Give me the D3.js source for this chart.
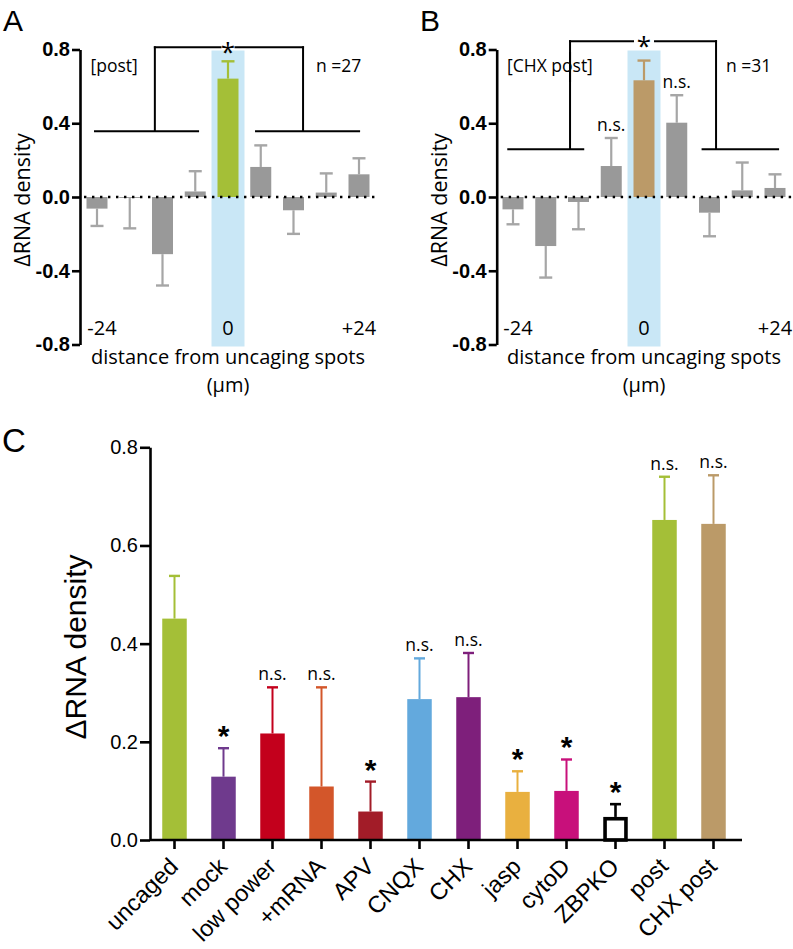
<!DOCTYPE html>
<html><head><meta charset="utf-8">
<script src="https://cdn.jsdelivr.net/npm/d3@7"></script>
<style>
html,body{margin:0;padding:0;background:#fff;}
svg{display:block;}
.my{font-family:"Open Sans",sans-serif;}
.hv{font-family:"Liberation Sans",Arial,sans-serif;}
</style></head>
<body>
<svg id="chart" width="793" height="949"></svg>
<script>
// ---------- DATA ----------
const distances = [-24, -18, -12, -6, 0, 6, 12, 18, 24];
const distanceTickLabels = ["-24", "0", "+24"];
const distanceTickValues = [-24, 0, 24];
const yTicksAB = [-0.8, -0.4, 0.0, 0.4, 0.8];

const postMean = [-0.063, -0.005, -0.31, 0.03, 0.642, 0.163, -0.072, 0.024, 0.123];
const postSem  = [0.094, 0.165, 0.17, 0.11, 0.094, 0.117, 0.128, 0.104, 0.087];

const chxPostMean = [-0.067, -0.266, -0.027, 0.168, 0.633, 0.403, -0.085, 0.036, 0.049];
const chxPostSem  = [0.081, 0.171, 0.148, 0.152, 0.107, 0.149, 0.128, 0.151, 0.074];
const chxPostSig  = ["", "", "", "n.s.", "", "n.s.", "", "", ""];

const conditions = ["uncaged", "mock", "low power", "+mRNA", "APV", "CNQX", "CHX", "jasp", "cytoD", "ZBPKO", "post", "CHX post"];
const condMean = [0.451, 0.129, 0.217, 0.109, 0.058, 0.287, 0.291, 0.098, 0.100, 0.047, 0.652, 0.644];
const condSem  = [0.087, 0.058, 0.094, 0.202, 0.061, 0.083, 0.090, 0.042, 0.064, 0.026, 0.088, 0.099];
const condSig  = ["", "*", "n.s.", "n.s.", "*", "n.s.", "n.s.", "*", "*", "*", "n.s.", "n.s."];
const condColor = ["#a4bf37", "#6f3a8d", "#c3001c", "#d3562a", "#a21c28", "#63a9dd", "#7e1f7b", "#e9b03f", "#c8107b", "#ffffff", "#a4bf37", "#bb9a68"];
const yTicksC = [0, 0.2, 0.4, 0.6, 0.8];

// ---------- SETUP ----------
const svg = d3.select("#chart");
const ink = "#000";

function panelAB(opts) {
  const g = svg.append("g");
  const x = d3.scaleLinear().domain([-24, 24]).range(opts.xRange);
  const y = d3.scaleLinear().domain([-0.8, 0.8]).range([344.5, 49.5]);
  const bw = 21;
  const ax = opts.axisX;

  // highlight band at 0
  g.append("rect").attr("x", x(0) - 16.5).attr("width", 33)
    .attr("y", y(0.8) + 1).attr("height", y(-0.8) - y(0.8) + 1)
    .attr("fill", "#c9e7f6");

  const data = distances.map((d, i) => ({d, m: opts.mean[i], s: opts.sem[i], i}));
  // error bars
  data.forEach(o => {
    const end = o.m >= 0 ? o.m + o.s : o.m - o.s;
    const col = o.d === 0 ? opts.hiColor : "#a6a6a6";
    g.append("line").attr("x1", x(o.d)).attr("x2", x(o.d)).attr("y1", y(o.m)).attr("y2", y(end))
      .attr("stroke", col).attr("stroke-width", 2.2);
    g.append("line").attr("x1", x(o.d) - 6.5).attr("x2", x(o.d) + 6.5).attr("y1", y(end)).attr("y2", y(end))
      .attr("stroke", col).attr("stroke-width", 2.4);
  });
  // bars
  g.selectAll("rect.bar").data(data).join("rect").attr("class", "bar")
    .attr("x", o => x(o.d) - bw / 2).attr("width", bw)
    .attr("y", o => y(Math.max(0, o.m))).attr("height", o => Math.abs(y(o.m) - y(0)))
    .attr("fill", o => o.d === 0 ? opts.hiColor : "#999999");

  // dotted zero line
  g.append("line").attr("x1", ax + 4).attr("x2", opts.zeroEnd).attr("y1", y(0)).attr("y2", y(0))
    .attr("stroke", ink).attr("stroke-width", 2.6).attr("stroke-dasharray", "2.4,5.6");

  // y axis
  const axis = d3.axisLeft(y).tickValues(yTicksAB).tickFormat(d3.format(".1f")).tickSize(8).tickSizeOuter(0).tickPadding(2);
  const ag = g.append("g").attr("transform", `translate(${ax},0)`).call(axis);
  ag.select(".domain").attr("stroke-width", 2.6).attr("stroke", ink);
  ag.selectAll(".tick line").attr("stroke-width", 2.6).attr("stroke", ink);
  ag.selectAll(".tick text").attr("class", "hv").attr("font-size", 20).attr("font-weight", "bold").attr("fill", ink)
    .text(d => d === 0 ? "0.0" : d3.format(".1f")(d).replace("−", "-"));

  // y label
  g.append("text").attr("class", "my").attr("font-size", 21.5)
    .attr("transform", `translate(${ax - 50},${y(0) + 3}) rotate(-90)`).attr("text-anchor", "middle")
    .text("ΔRNA density");

  // distance labels
  distanceTickValues.forEach((v, i) => {
    g.append("text").attr("class", "my").attr("font-size", 20).attr("text-anchor", "middle")
      .attr("x", x(v) + (v < 0 ? 5 : 0)).attr("y", 335).text(distanceTickLabels[i]);
  });
  g.append("text").attr("class", "my").attr("font-size", 20).attr("text-anchor", "middle")
    .attr("x", x(0)).attr("y", 364).text("distance from uncaging spots");
  g.append("text").attr("class", "my").attr("font-size", 20).attr("text-anchor", "middle")
    .attr("x", x(0)).attr("y", 392).text("(μm)");

  // condition label and n
  g.append("text").attr("class", "my").attr("font-size", 17.5).attr("x", opts.condX).attr("y", 72).text(opts.cond);
  g.append("text").attr("class", "my").attr("font-size", 17.5).attr("x", opts.nX).attr("y", 72).text(opts.n);

  // brackets
  const b = opts.bracket;
  const L = (x1, y1, x2, y2) => g.append("line").attr("x1", x1).attr("y1", y1).attr("x2", x2).attr("y2", y2)
    .attr("stroke", ink).attr("stroke-width", 2);
  L(x(b.left[0]), y(b.level), x(b.left[1]), y(b.level));
  L(x(b.right[0]), y(b.level), x(b.right[1]), y(b.level));
  if (b.stemGap) {
    L(x(b.leftStem), y(b.level), x(b.leftStem), b.stemGap[1]);
    L(x(b.leftStem), b.stemGap[0], x(b.leftStem), y(b.top) - 1);
  } else {
    L(x(b.leftStem), y(b.level), x(b.leftStem), y(b.top) - 1);
  }
  L(x(b.rightStem), y(b.level), x(b.rightStem), y(b.top) - 1);
  L(x(b.leftStem) - 1, y(b.top), x(0) - b.gap, y(b.top));
  L(x(0) + b.gap, y(b.top), x(b.rightStem) + 1, y(b.top));
  g.append("text").attr("class", "my").attr("font-size", 26).attr("text-anchor", "middle")
    .attr("x", x(0)).attr("y", y(b.top) + 14).text("*");

  // n.s. labels
  if (opts.sig) {
    data.forEach(o => {
      if (!opts.sig[o.i]) return;
      const end = o.m + o.s;
      g.append("text").attr("class", "my").attr("font-size", 17.5).attr("text-anchor", "middle")
        .attr("x", x(o.d)).attr("y", y(end) - 7).text(opts.sig[o.i]);
    });
  }

  // panel letter
  g.append("text").attr("class", "hv").attr("font-size", 30).attr("x", opts.letterX).attr("y", 31).text(opts.letter);
}

panelAB({
  xRange: [97, 359], axisX: 80, zeroEnd: 376, mean: postMean, sem: postSem, hiColor: "#a4bf37",
  cond: "[post]", condX: 90.5, n: "n =27", nX: 316, letter: "A", letterX: 3,
  bracket: {left: [-24.55, -5.3], right: [4.95, 24.2], leftStem: -13.4, rightStem: 13.75, level: 0.356, top: 0.812, gap: 6.5}
});
panelAB({
  xRange: [513, 775], axisX: 496.7, zeroEnd: 792, mean: chxPostMean, sem: chxPostSem, hiColor: "#bb9a68",
  cond: "[CHX post]", condX: 507, n: "n =31", nX: 726, letter: "B", letterX: 420, sig: chxPostSig,
  bracket: {left: [-25.05, -10.95], right: [10.55, 24.75], leftStem: -13.55, rightStem: 13.2, level: 0.259, top: 0.845, gap: 10, stemGap: [82, 52]}
});

// ---------- PANEL C ----------
(function () {
  const g = svg.append("g");
  const x = d3.scaleBand().domain(conditions).range([150, 738]).paddingInner(0.5).paddingOuter(0.25);
  const y = d3.scaleLinear().domain([0, 0.8]).range([840, 447.3]);
  const data = conditions.map((c, i) => ({c, m: condMean[i], s: condSem[i], sig: condSig[i], col: condColor[i], i}));

  data.forEach(o => {
    const cx = x(o.c) + x.bandwidth() / 2;
    const end = o.m + o.s;
    const ecol = o.c === "ZBPKO" ? ink : o.col;
    g.append("line").attr("x1", cx).attr("x2", cx).attr("y1", y(o.m)).attr("y2", y(end))
      .attr("stroke", ecol).attr("stroke-width", o.c === "ZBPKO" ? 2.6 : 2);
    g.append("line").attr("x1", cx - 5.5).attr("x2", cx + 5.5).attr("y1", y(end)).attr("y2", y(end))
      .attr("stroke", ecol).attr("stroke-width", o.c === "ZBPKO" ? 2.6 : 2.4);
    if (o.c === "ZBPKO") {
      const sw = 3.6;
      g.append("rect").attr("x", x(o.c) + sw / 2).attr("width", x.bandwidth() - sw)
        .attr("y", y(o.m) + sw / 2).attr("height", y(0) - y(o.m) - sw / 2)
        .attr("fill", "#fff").attr("stroke", ink).attr("stroke-width", sw);
    } else {
      g.append("rect").attr("x", x(o.c)).attr("width", x.bandwidth())
        .attr("y", y(o.m)).attr("height", y(0) - y(o.m)).attr("fill", o.col);
    }
    if (o.sig === "*") {
      g.append("text").attr("class", "hv").attr("font-size", 30).attr("font-weight", "bold")
        .attr("text-anchor", "middle").attr("x", cx).attr("y", y(end) - 2).text("*");
    } else if (o.sig) {
      g.append("text").attr("class", "my").attr("font-size", 17.5)
        .attr("text-anchor", "middle").attr("x", cx).attr("y", y(end) - 7).text(o.sig);
    }
  });

  // y axis
  const ya = d3.axisLeft(y).tickValues(yTicksC).tickFormat(d3.format(".1f")).tickSize(10).tickSizeOuter(0).tickPadding(2);
  const yg = g.append("g").attr("transform", "translate(150,0)").call(ya);
  yg.select(".domain").attr("stroke-width", 2.6).attr("stroke", ink);
  yg.selectAll(".tick line").attr("stroke-width", 2.6).attr("stroke", ink);
  yg.selectAll(".tick text").attr("class", "hv").attr("font-size", 20).attr("fill", ink);

  // x axis
  const xa = d3.axisBottom(x).tickSize(9).tickSizeOuter(0).tickFormat("");
  const xg = g.append("g").attr("transform", "translate(0,840)").call(xa);
  xg.select(".domain").remove();
  xg.selectAll(".tick line").attr("stroke-width", 2.6).attr("stroke", ink);
  g.append("line").attr("x1", 150).attr("x2", 742).attr("y1", 840).attr("y2", 840)
    .attr("stroke", ink).attr("stroke-width", 2.6);
  data.forEach(o => {
    const cx = x(o.c) + x.bandwidth() / 2;
    g.append("text").attr("class", "hv").attr("font-size", 23.5).attr("text-anchor", "end")
      .attr("transform", `translate(${cx + 5},${868}) rotate(-45)`).text(o.c);
  });

  g.append("text").attr("class", "hv").attr("font-size", 30).attr("text-anchor", "middle")
    .attr("transform", `translate(86,647) rotate(-90)`).text("ΔRNA density");
  g.append("text").attr("class", "hv").attr("font-size", 33).attr("x", 2).attr("y", 452).text("C");
})();
</script>
</body></html>
